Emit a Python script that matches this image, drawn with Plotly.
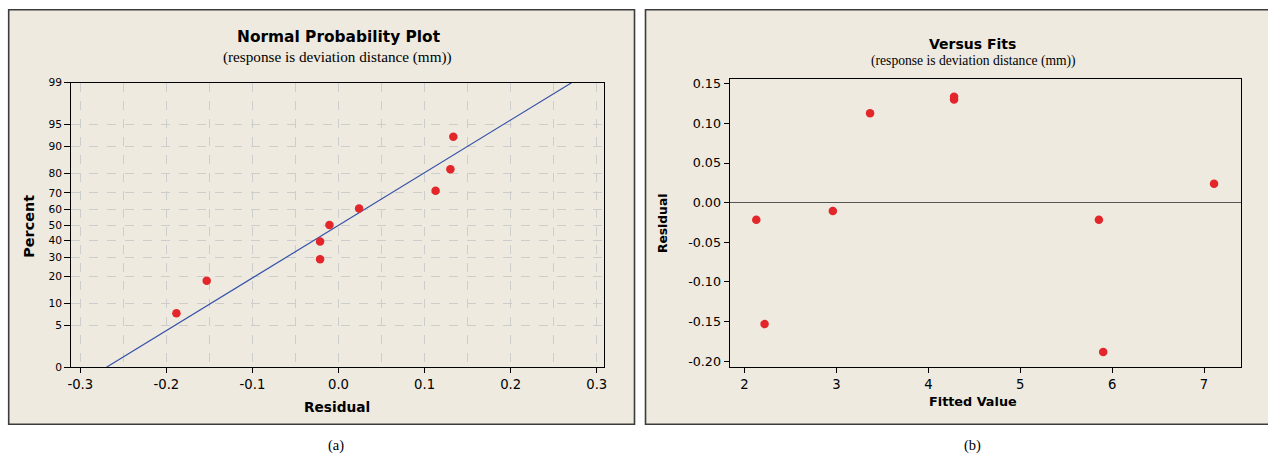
import plotly.graph_objects as go
from statistics import NormalDist, mean, stdev

# ---------------- data ----------------
residuals = [-0.1883, -0.1531, -0.0214, -0.0214, -0.0105, 0.0239, 0.1128, 0.1300, 0.1334]
fitted_values = [5.903, 2.218, 2.128, 5.856, 2.961, 7.109, 3.366, 4.280, 4.280]
fit_residuals = [-0.1883, -0.1531, -0.0214, -0.0214, -0.0105, 0.0239, 0.1128, 0.1300, 0.1334]

pct_tick_values = [1, 5, 10, 20, 30, 40, 50, 60, 70, 80, 90, 95, 99]
pct_tick_labels = ["0", "5", "10", "20", "30", "40", "50", "60", "70", "80", "90", "95", "99"]
resid_x_ticks = [-0.3, -0.2, -0.1, 0.0, 0.1, 0.2, 0.3]
resid_x_labels = ["-0.3", "-0.2", "-0.1", "0.0", "0.1", "0.2", "0.3"]
fits_x_ticks = [2, 3, 4, 5, 6, 7]
fits_y_ticks = [-0.20, -0.15, -0.10, -0.05, 0.00, 0.05, 0.10, 0.15]
fits_y_labels = ["-0.20", "-0.15", "-0.10", "-0.05", "0.00", "0.05", "0.10", "0.15"]

# ---------------- derived ----------------
nd = NormalDist()
n = len(residuals)
sorted_res = sorted(residuals)
probs = [(i + 1 - 0.3) / (n + 0.4) for i in range(n)]
z_pts = [nd.inv_cdf(p) for p in probs]
z_ticks = [nd.inv_cdf(p / 100) for p in pct_tick_values]
mu, sd = mean(residuals), stdev(residuals)
z_lo, z_hi = nd.inv_cdf(0.01), nd.inv_cdf(0.99)
line_z = [z_lo, z_hi]
line_x = [mu + sd * z for z in line_z]
half_ticks = [(a + b) / 2 for a, b in zip(resid_x_ticks[:-1], resid_x_ticks[1:])]

# figure fills the whole 1268x461 page (body margin removed below)
W, H = 1268, 461
SX, SY = 0.994, 0.973       # observed rendering scale about the page centre
CX, CY = 634, 230.5
def px(x):
    return (CX + (x - CX) / SX) / W
def py(y):
    return 1 - (CY + (y - CY) / SY) / H

BG = "#EEEAE0"
RED = "#E3262A"
BLUE = "#3551A8"
TICKFONT = "DejaVu Sans"
GRIDC = "#CDCDCD"
FS = 1.015

fig = go.Figure()
fig.add_trace(go.Scatter(x=line_x, y=line_z, mode="lines",
                         line=dict(color=BLUE, width=1.2), xaxis="x", yaxis="y",
                         showlegend=False, hoverinfo="skip"))
fig.add_trace(go.Scatter(x=sorted_res, y=z_pts, mode="markers",
                         marker=dict(color=RED, size=8.5), xaxis="x", yaxis="y",
                         showlegend=False))
fig.add_trace(go.Scatter(x=fitted_values, y=fit_residuals, mode="markers",
                         marker=dict(color=RED, size=8.5), xaxis="x2", yaxis="y2",
                         showlegend=False))

fig.update_layout(
    width=W, height=H,
    margin=dict(l=0, r=0, t=0, b=0),
    paper_bgcolor="white", plot_bgcolor="white",
    showlegend=False,
    xaxis=dict(domain=[px(71), px(604)], anchor="y", range=[-0.3105, 0.309],
               tickmode="array", tickvals=resid_x_ticks, ticktext=resid_x_labels,
               ticks="outside", ticklen=5, tickcolor="black",
               tickfont=dict(family=TICKFONT, size=13 * FS, color="black"),
               showline=True, linecolor="black", linewidth=1, mirror=True,
               zeroline=False, showgrid=True, gridcolor=GRIDC, griddash="dash",
               minor=dict(tickmode="array", tickvals=half_ticks, showgrid=True,
                          gridcolor=GRIDC, griddash="dash", ticks="")),
    yaxis=dict(domain=[py(368), py(83)], anchor="x", range=[z_lo, z_hi],
               tickmode="array", tickvals=z_ticks, ticktext=pct_tick_labels,
               ticks="outside", ticklen=6, tickcolor="black",
               tickfont=dict(family=TICKFONT, size=10.5 * FS, color="black"),
               showline=True, linecolor="black", linewidth=1, mirror=True,
               zeroline=False, showgrid=True, gridcolor=GRIDC, griddash="dash"),
    xaxis2=dict(domain=[px(729), px(1240)], anchor="y2", range=[1.837, 7.40],
                tickmode="array", tickvals=fits_x_ticks,
                ticks="outside", ticklen=5, tickcolor="black",
                tickfont=dict(family=TICKFONT, size=13 * FS, color="black"),
                showline=True, linecolor="black", linewidth=1, mirror=True,
                showgrid=False, zeroline=False),
    yaxis2=dict(domain=[py(368), py(79)], anchor="x2", range=[-0.2076, 0.1563],
                tickmode="array", tickvals=fits_y_ticks, ticktext=fits_y_labels,
                ticks="outside", ticklen=5, tickcolor="black",
                tickfont=dict(family=TICKFONT, size=12.5 * FS, color="black"),
                showline=True, linecolor="black", linewidth=1, mirror=True,
                showgrid=False, zeroline=True, zerolinecolor="#555555", zerolinewidth=1),
)

shapes = [
    dict(type="rect", xref="paper", yref="paper", x0=px(8.5), x1=px(634), y0=py(425), y1=py(10),
         fillcolor=BG, line=dict(color="#3C3C3C", width=1.6), layer="below"),
    dict(type="rect", xref="paper", yref="paper", x0=px(645), x1=px(1290), y0=py(425), y1=py(10),
         fillcolor=BG, line=dict(color="#3C3C3C", width=1.6), layer="below"),
]
fig.update_layout(shapes=shapes)

def ann(text, x, y, size, family, bold=False, angle=0):
    return dict(text=f"<b>{text}</b>" if bold else text, x=px(x), y=py(y),
                xref="paper", yref="paper", showarrow=False, textangle=angle,
                font=dict(family=family, size=size, color="black"),
                xanchor="center", yanchor="middle")

fig.update_layout(annotations=[
    ann("Normal Probability Plot", 338, 37, 15.4, TICKFONT, bold=True),
    ann("(response is deviation distance (mm))", 337, 57, 15.2, "Liberation Serif"),
    ann("Residual", 337, 408, 13.7, TICKFONT, bold=True),
    ann("Percent", 28, 227, 14.4, TICKFONT, bold=True, angle=-90),
    ann("Versus Fits", 972, 44, 14, TICKFONT, bold=True),
    ann("(response is deviation distance (mm))", 973, 61, 13.6, "Liberation Serif"),
    ann("Fitted Value", 972, 402, 12.8, TICKFONT, bold=True),
    ann("Residual", 662, 224, 12.3, TICKFONT, bold=True, angle=-90),
    ann("(a)", 336, 446.5, 14.5, "Liberation Serif"),
    ann("(b)", 972, 446.5, 14.5, "Liberation Serif"),
])

fig.write_html("out.html", config={"displayModeBar": False, "staticPlot": True},
               post_script="document.body.style.margin='0';document.body.style.overflow='hidden';")
